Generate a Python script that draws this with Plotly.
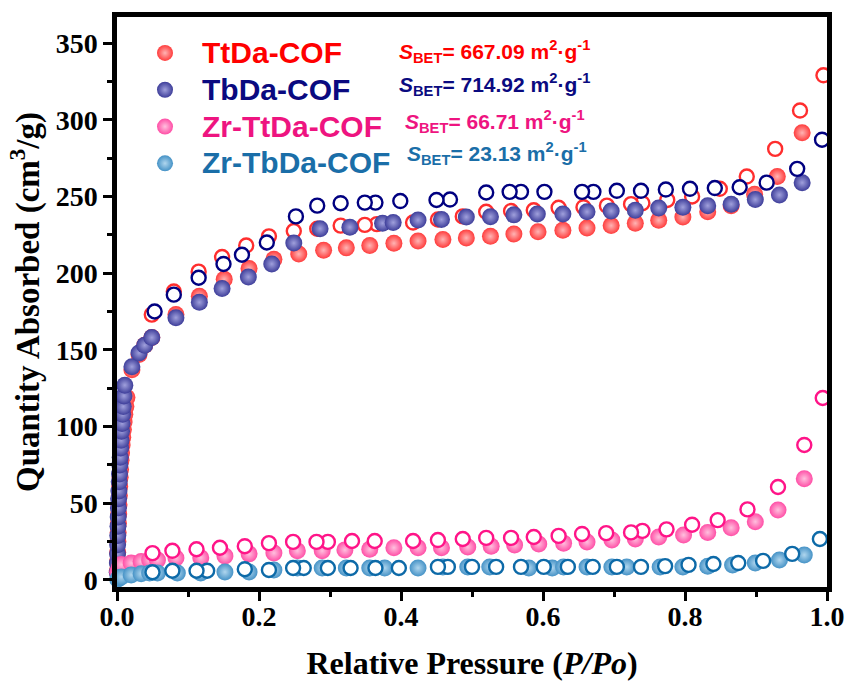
import plotly.graph_objects as go

# ---- N2 isotherm data (P/Po, cm3/g) ----
ttda_ads_p = [0.0004, 0.0007, 0.001, 0.0013, 0.0016, 0.002, 0.0024, 0.0028, 0.0033, 0.0038,
              0.0044, 0.005, 0.0057, 0.0064, 0.0072, 0.0081, 0.009, 0.01, 0.011, 0.0125, 0.014,
              0.021, 0.031, 0.039, 0.049,
              0.083, 0.116, 0.151, 0.186, 0.221, 0.256, 0.291, 0.323, 0.356, 0.39,
              0.424, 0.459, 0.492, 0.526, 0.559, 0.593, 0.628, 0.662, 0.696, 0.73,
              0.763, 0.797, 0.832, 0.865, 0.898, 0.93, 0.965]
ttda_ads_q = [6, 12, 18, 25, 31, 37, 43, 49, 55, 61,
              67, 72, 78, 83, 88, 93, 98, 103, 108, 113, 119,
              137, 147, 153, 158,
              173, 185, 196, 203, 209, 212.5, 215, 216.5, 218, 219.5,
              221, 222, 223, 224, 225.5, 227, 228, 229.5, 231, 232.5,
              234.5, 236.6, 240, 244, 251.5, 263, 291.5]
ttda_des_p = [0.995, 0.962, 0.927, 0.887, 0.849, 0.81, 0.775, 0.74, 0.724, 0.69,
              0.657, 0.622, 0.587, 0.555, 0.52, 0.487, 0.452, 0.417, 0.366, 0.349,
              0.315, 0.282, 0.249, 0.214, 0.182, 0.148, 0.115, 0.08, 0.049]
ttda_des_q = [329, 306, 281, 263, 255, 250, 247.7, 245.6, 245, 244,
              243, 242.6, 241, 240.5, 240, 237, 235, 233, 232, 231.5,
              231, 229, 227.5, 224, 218, 210.5, 201, 188, 173]

tbda_ads_p = [0.0003, 0.0005, 0.0007, 0.0009, 0.0011, 0.0014, 0.0017, 0.002, 0.0023, 0.0027,
              0.0031, 0.0035, 0.004, 0.0045, 0.0051, 0.0057, 0.0064, 0.0071, 0.0079, 0.0088,
              0.0098, 0.011,
              0.021, 0.031, 0.039, 0.049,
              0.083, 0.116, 0.148, 0.185, 0.218, 0.249, 0.286, 0.328, 0.374, 0.389,
              0.424, 0.457, 0.492, 0.526, 0.559, 0.592, 0.628, 0.662, 0.696, 0.73,
              0.763, 0.797, 0.832, 0.865, 0.899, 0.933, 0.965]
tbda_ads_q = [5, 11, 17, 23, 29, 35, 41, 47, 53, 58,
              64, 69, 75, 80, 86, 91, 97, 102, 108, 113,
              120, 127,
              139, 148, 153, 158,
              171, 181, 190, 197.5, 206, 219.6, 229, 230, 232.6, 233,
              234.6, 235, 236.6, 236.8, 238, 238.6, 238.6, 240, 240.5, 241,
              242.5, 243, 244, 245, 248, 251, 259]
tbda_des_p = [0.993, 0.958, 0.915, 0.877, 0.842, 0.807, 0.773, 0.738, 0.704, 0.671,
              0.655, 0.602, 0.569, 0.553, 0.52, 0.469, 0.45, 0.399, 0.364, 0.349,
              0.315, 0.282, 0.252, 0.211, 0.176, 0.15, 0.115, 0.08, 0.053]
tbda_des_q = [287, 268, 259, 256, 255.5, 255, 254.5, 253.7, 253.7, 253,
              253, 253, 253, 253, 252.6, 248, 247.7, 247, 246, 246,
              245.6, 244, 237, 220, 212, 206, 197, 186, 175]

zr_ttda_ads_p = [0.001, 0.003, 0.006, 0.02, 0.034, 0.046, 0.057,
                 0.083, 0.118, 0.152, 0.186, 0.221, 0.254, 0.289, 0.321, 0.356, 0.39,
                 0.424, 0.457, 0.494, 0.527, 0.56, 0.594, 0.629, 0.662, 0.697, 0.73,
                 0.763, 0.798, 0.832, 0.865, 0.899, 0.931, 0.968]
zr_ttda_ads_q = [5, 8, 10, 11, 12, 13, 13,
                 14.3, 14.5, 15.6, 17, 17.6, 19, 19, 19.6, 20, 21,
                 21, 21, 21.5, 22, 22.8, 23.5, 24, 24.8, 26, 26.7,
                 28, 29.3, 31, 34, 38, 45.6, 66]
zr_ttda_des_p = [0.994, 0.968, 0.931, 0.888, 0.846, 0.81, 0.774, 0.74, 0.724, 0.689,
                 0.655, 0.622, 0.587, 0.555, 0.52, 0.487, 0.452, 0.417, 0.363, 0.331,
                 0.297, 0.281, 0.248, 0.214, 0.18, 0.145, 0.112, 0.078, 0.05]
zr_ttda_des_q = [118.6, 88, 60.6, 46, 39, 36, 33, 32, 31, 30.5,
                 30, 28.7, 28, 27.4, 27.4, 26.7, 26, 25.4, 25.4, 25.4,
                 24.8, 24.8, 24.8, 24, 22, 21, 20, 19, 17.5]

zr_tbda_ads_p = [0.001, 0.003, 0.006, 0.02, 0.034, 0.046, 0.057,
                 0.085, 0.118, 0.152, 0.186, 0.221, 0.254, 0.289, 0.323, 0.356, 0.377,
                 0.424, 0.459, 0.494, 0.525, 0.58, 0.613, 0.629, 0.662, 0.697, 0.718,
                 0.765, 0.797, 0.832, 0.867, 0.899, 0.933, 0.968]
zr_tbda_ads_q = [0.5, 1.5, 2, 3.3, 4, 4.5, 4.6,
                 4.5, 4.6, 5.2, 5.2, 6.5, 7.8, 7.8, 7.8, 7.8, 7.8,
                 7.8, 8.5, 8.5, 8.5, 7.8, 7.8, 8.5, 8.5, 8.5, 8.5,
                 8.5, 8.5, 9, 9.8, 11, 13, 16.3]
zr_tbda_des_p = [0.99, 0.951, 0.91, 0.875, 0.84, 0.805, 0.772, 0.738, 0.704, 0.67,
                 0.635, 0.601, 0.569, 0.534, 0.5, 0.466, 0.452, 0.397, 0.364, 0.329,
                 0.297, 0.263, 0.248, 0.214, 0.18, 0.127, 0.112, 0.078, 0.05]
zr_tbda_des_q = [26.7, 17, 12.4, 11, 10.4, 9.8, 9, 8.5, 8.5, 8.5,
                 8.5, 8.5, 8.5, 8.5, 8.5, 8.5, 8.5, 7.8, 7.8, 7.8,
                 7.8, 7.8, 7.8, 6.5, 7, 6, 6, 6, 5]

names = ["TtDa-COF", "TbDa-COF", "Zr-TtDa-COF", "Zr-TbDa-COF"]
bet_values = ["667.09", "714.92", "66.71", "23.13"]

# colours: (ball base, ball highlight, open-circle line, label text)
styles = [
    ("#ff3c3c", "#ffb4b4", "#ff2e2e", "#ff0000"),
    ("#3e3e9a", "#a0a0dc", "#000080", "#0a0a80"),
    ("#ff4ea6", "#ffc0de", "#ff1488", "#ee1480"),
    ("#4592c6", "#b0d6ee", "#0d6aa8", "#1a6ea8"),
]

series = [
    (ttda_ads_p, ttda_ads_q, ttda_des_p, ttda_des_q),
    (tbda_ads_p, tbda_ads_q, tbda_des_p, tbda_des_q),
    (zr_ttda_ads_p, zr_ttda_ads_q, zr_ttda_des_p, zr_ttda_des_q),
    (zr_tbda_ads_p, zr_tbda_ads_q, zr_tbda_des_p, zr_tbda_des_q),
]

fig = go.Figure()

for name, (ap, aq, dp, dq), (base, hi, line, txt) in zip(names, series, styles):
    # adsorption branch: shaded balls
    fig.add_trace(go.Scatter(
        x=ap, y=aq, mode="markers",
        name=f'<span style="color:{txt};font-size:30px">{name}</span>',
        marker=dict(symbol="circle", size=17, color=base,
                    gradient=dict(type="radial", color=hi),
                    line=dict(width=0)),
        cliponaxis=False,
    ))
    # desorption branch: open circles
    fig.add_trace(go.Scatter(
        x=dp, y=dq, mode="markers", showlegend=False,
        marker=dict(symbol="circle", size=14, color="white",
                    line=dict(width=2.4, color=line)),
        cliponaxis=False,
    ))

# BET surface area labels (left edge in px, vertical centre in px)
bet_pos = [(397, 52), (397, 84), (403, 121), (405, 154)]
L, R, T, B = 117, 24, 17, 104
W, H = 851, 691
for (xpx, ypx), val, (_, _, _, txt) in zip(bet_pos, bet_values, styles):
    fig.add_annotation(
        xref="paper", yref="paper",
        x=(xpx - L) / (W - L - R),
        y=1 - (ypx - T) / (H - T - B),
        xanchor="left", yanchor="middle", showarrow=False,
        text=f"<b><i>S</i><sub>BET</sub>= {val} m<sup>2</sup>·g<sup>-1</sup></b>",
        font=dict(family="Liberation Sans, Arial", size=21, color=txt),
    )

axis_font = dict(family="Liberation Serif, Times New Roman", size=28, color="black")

fig.update_layout(
    width=W, height=H,
    margin=dict(l=L, r=R, t=T, b=B),
    paper_bgcolor="white", plot_bgcolor="white",
    showlegend=True,
    legend=dict(
        x=0.0155, y=0.978, xanchor="left", yanchor="top",
        bgcolor="rgba(0,0,0,0)", borderwidth=0,
        font=dict(family="Liberation Sans, Arial", size=26, weight="bold"),
        itemsizing="trace", itemwidth=64,
    ),
    xaxis=dict(
        range=[0, 1.0], tickvals=[0, 0.2, 0.4, 0.6, 0.8, 1.0],
        ticktext=["0.0", "0.2", "0.4", "0.6", "0.8", "1.0"],
        showline=True, linewidth=4.5, linecolor="black", mirror=True,
        ticks="outside", ticklen=9, tickwidth=3, tickcolor="black",
        minor=dict(dtick=0.1, ticks="outside", ticklen=5, tickwidth=3, tickcolor="black"),
        showgrid=False, zeroline=False,
        tickfont=dict(axis_font, weight="bold"),
        ticklabelstandoff=-8,
        title=dict(text="<b>Relative Pressure (<i>P/Po</i>)</b>",
                   font=dict(family="Liberation Serif, Times New Roman", size=32, color="black"),
                   standoff=22),
        automargin=False,
    ),
    yaxis=dict(
        range=[-4.6, 367], tickvals=[0, 50, 100, 150, 200, 250, 300, 350],
        showline=True, linewidth=4.5, linecolor="black", mirror=True,
        ticks="outside", ticklen=9, tickwidth=3, tickcolor="black",
        minor=dict(dtick=25, tick0=0, ticks="outside", ticklen=5, tickwidth=3, tickcolor="black"),
        showgrid=False, zeroline=False,
        tickfont=dict(axis_font, weight="bold"),
        title=dict(text="<b>Quantity Absorbed (cm<sup>3</sup>/g)</b>",
                   font=dict(family="Liberation Serif, Times New Roman", size=33, color="black"),
                   standoff=8),
        automargin=False,
    ),
)

fig.write_html("out.html")
